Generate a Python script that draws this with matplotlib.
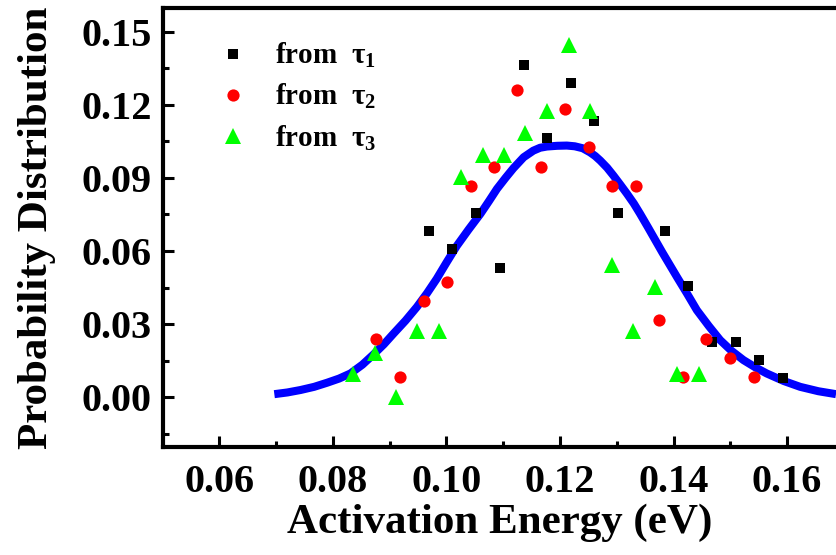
import numpy as np
import matplotlib
matplotlib.use("Agg")
import matplotlib.pyplot as plt
from matplotlib.ticker import MultipleLocator

# activation energy (eV) and probability for each time constant
e_tau1 = [0.0970, 0.1010, 0.1052, 0.1095, 0.1136, 0.1177, 0.1219, 0.1260,
          0.1302, 0.1385, 0.1426, 0.1468, 0.1510, 0.1551, 0.1593]
p_tau1 = [0.0682, 0.0609, 0.0757, 0.0532, 0.1364, 0.1063, 0.1288, 0.1135,
          0.0758, 0.0682, 0.0455, 0.0228, 0.0228, 0.0152, 0.0078]

e_tau2 = [0.0876, 0.0918, 0.0960, 0.1001, 0.1043, 0.1084, 0.1125, 0.1166,
          0.1208, 0.1251, 0.1291, 0.1333, 0.1375, 0.1416, 0.1457, 0.1499, 0.1541]
p_tau2 = [0.0239, 0.0081, 0.0395, 0.0474, 0.0866, 0.0947, 0.1261, 0.0947,
          0.1183, 0.1026, 0.0866, 0.0866, 0.0318, 0.0081, 0.0239, 0.0160, 0.0081]

e_tau3 = [0.0835, 0.0875, 0.0911, 0.0949, 0.0987, 0.1025, 0.1064, 0.1101,
          0.1139, 0.1177, 0.1215, 0.1253, 0.1291, 0.1329, 0.1368, 0.1406, 0.1444]
p_tau3 = [0.0094, 0.0182, 0.0000, 0.0272, 0.0272, 0.0903, 0.0996, 0.0996,
          0.1083, 0.1176, 0.1446, 0.1176, 0.0541, 0.0272, 0.0452, 0.0093, 0.0093]

# fitted distribution
e_fit = [0.0697, 0.0720, 0.0743, 0.0767, 0.0790, 0.0811, 0.0831, 0.0852,
         0.0872, 0.0890, 0.0907, 0.0928, 0.0948, 0.0966, 0.0983, 0.1000,
         0.1018, 0.1039, 0.1060, 0.1075, 0.1089, 0.1104, 0.1118, 0.1136,
         0.1153, 0.1165, 0.1177, 0.1195, 0.1212, 0.1226, 0.1240, 0.1253,
         0.1262, 0.1271, 0.1283, 0.1294, 0.1306, 0.1318, 0.1330, 0.1341,
         0.1355, 0.1380, 0.1406, 0.1424, 0.1441, 0.1462, 0.1482, 0.1502,
         0.1523, 0.1544, 0.1564, 0.1594, 0.1623, 0.1655, 0.1686]
p_fit = [0.0012, 0.0019, 0.0029, 0.0042, 0.0059, 0.0076, 0.0097, 0.0133,
         0.0176, 0.0217, 0.0261, 0.0314, 0.0370, 0.0427, 0.0486, 0.0552,
         0.0620, 0.0688, 0.0753, 0.0805, 0.0855, 0.0900, 0.0940, 0.0985,
         0.1012, 0.1024, 0.1029, 0.1032, 0.1033, 0.1030, 0.1022, 0.1005,
         0.0990, 0.0971, 0.0942, 0.0910, 0.0873, 0.0835, 0.0795, 0.0753,
         0.0697, 0.0595, 0.0493, 0.0424, 0.0357, 0.0292, 0.0234, 0.0190,
         0.0152, 0.0122, 0.0097, 0.0066, 0.0042, 0.0024, 0.0012]

plt.rcParams["font.family"] = "Liberation Serif"
plt.rcParams["font.weight"] = "bold"
plt.rcParams["mathtext.fontset"] = "custom"
plt.rcParams["mathtext.rm"] = "Liberation Serif:bold"
plt.rcParams["mathtext.default"] = "rm"

fig = plt.figure(figsize=(8.36, 5.55), dpi=100)
ax = fig.add_axes([0.1950, 0.1946, 0.8050, 0.7910])

ax.plot(e_fit, p_fit, color="#0000ff", lw=5.8, zorder=2,
        solid_capstyle="butt", solid_joinstyle="round")
ax.plot(e_tau1, p_tau1, "s", color="black", ms=7.8, mew=0, label="from  τ$_1$", zorder=3)
ax.plot(e_tau2, p_tau2, "o", color="#ff0000", ms=8.8, mew=0, label="from  τ$_2$", zorder=3)
ax.plot(e_tau3, p_tau3, "^", color="#00ff00", ms=11.5, mew=0, label="from  τ$_3$", zorder=3)

ax.set_xlim(0.0501, 0.1686)
ax.set_ylim(-0.0205, 0.1598)
ax.xaxis.set_major_locator(MultipleLocator(0.02))
ax.xaxis.set_minor_locator(MultipleLocator(0.01))
ax.yaxis.set_major_locator(MultipleLocator(0.03))
ax.yaxis.set_minor_locator(MultipleLocator(0.015))
ax.xaxis.set_major_formatter(plt.FormatStrFormatter("%.2f"))
ax.yaxis.set_major_formatter(plt.FormatStrFormatter("%.2f"))

ax.tick_params(which="both", direction="in", top=False, right=False, labelsize=29)
ax.tick_params(axis="x", pad=12)
ax.tick_params(axis="y", pad=8)
ax.tick_params(which="major", length=8, width=2.2)
ax.tick_params(which="minor", length=4, width=2.2)

ax.spines["right"].set_visible(False)
for side in ("left", "bottom", "top"):
    ax.spines[side].set_linewidth(3)

ax.set_xlabel("Activation Energy (eV)", fontsize=31, fontweight="bold", labelpad=2)
ax.set_ylabel("Probability Distribution", fontsize=31, fontweight="bold", labelpad=18)

ax.legend(loc="upper left", bbox_to_anchor=(0.065, 0.952), frameon=False,
          fontsize=21, handletextpad=0.95, labelspacing=0.42, handlelength=1.0,
          borderaxespad=0)

fig.savefig("out.png", dpi=100)
